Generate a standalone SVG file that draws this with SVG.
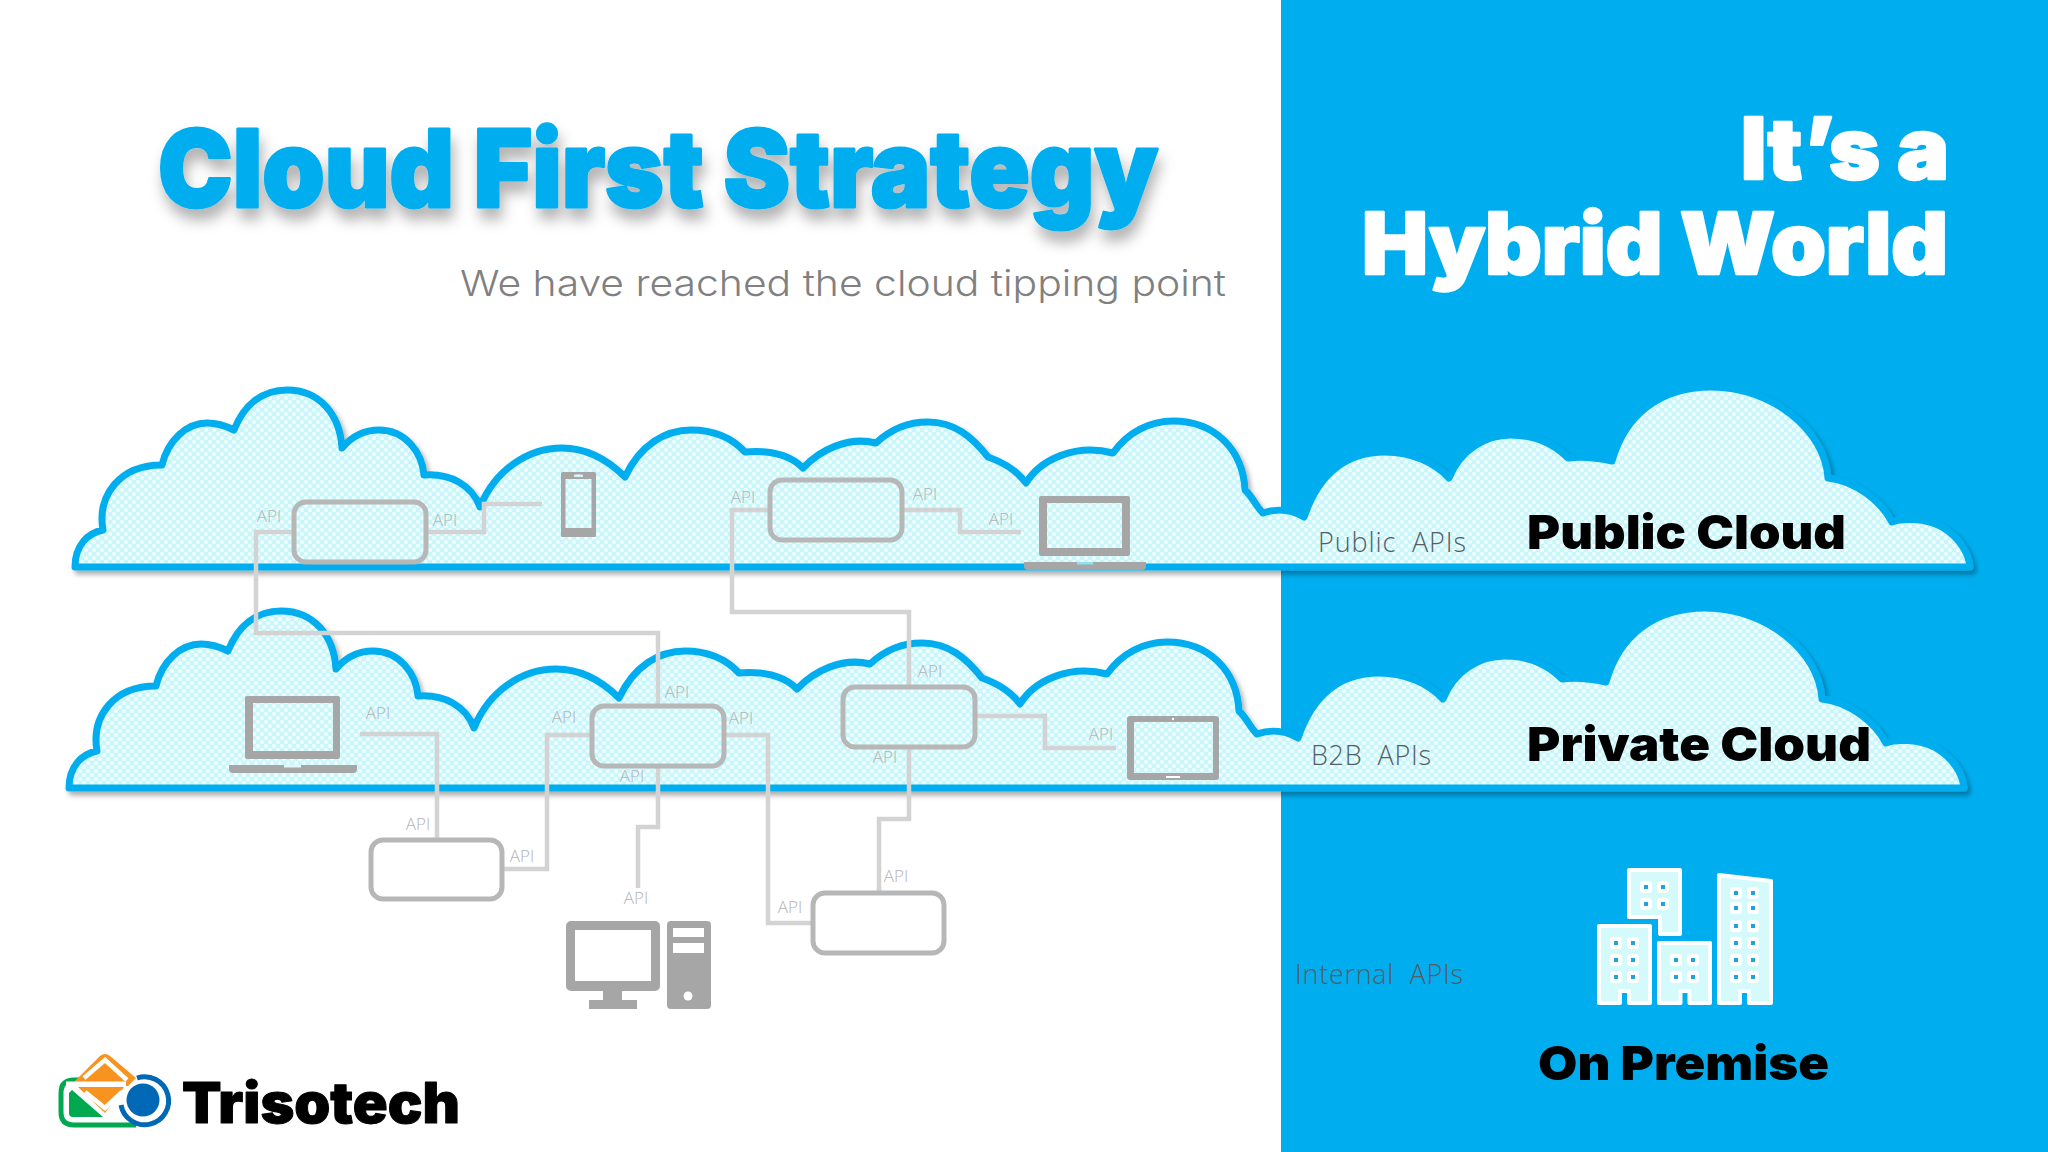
<svg xmlns="http://www.w3.org/2000/svg" width="2048" height="1152" viewBox="0 0 2048 1152">
<style>
.cloud{fill:url(#dots);stroke:#00aeef;stroke-width:7;stroke-linejoin:round;filter:url(#cloudShadow)}
.box{fill:none;stroke:#b7b7b7;stroke-width:5}
.conn{fill:none;stroke:#d3d3d3;stroke-width:4.500}
.api{font-family:"Open Sans","Noto Sans",sans-serif;font-weight:300;font-size:17px;fill:#b4b4b4;text-anchor:middle}
.dev{fill:#a6a6a6}
.hole{fill:url(#dots)}
.white{fill:#fff}
.head{font-family:Inter,"Liberation Sans",sans-serif;font-weight:900;stroke-linejoin:round}
.env{font-family:Inter,"Liberation Sans",sans-serif;font-weight:900;font-size:47px;fill:#000}
.scope{font-family:"Open Sans","Noto Sans",sans-serif;font-weight:300;font-size:27px;fill:#555d66}
.bld{fill:#d4fafc;stroke:#fff;stroke-width:4;stroke-linejoin:round}
</style>
<defs>
<pattern id="dots" width="8" height="8" patternUnits="userSpaceOnUse">
<rect width="8" height="8" fill="#c9f6fa"/>
<circle cx="2" cy="2" r="2.100" fill="#eefdfe"/>
<circle cx="6" cy="6" r="2.100" fill="#eefdfe"/>
</pattern>
<filter id="cloudShadow" x="-5%" y="-10%" width="110%" height="125%">
<feDropShadow dx="3" dy="4" stdDeviation="2.500" flood-color="#000" flood-opacity=".32"/>
</filter>
<filter id="titleShadow" x="-5%" y="-20%" width="110%" height="160%">
<feDropShadow dx="3" dy="11" stdDeviation="7" flood-color="#000" flood-opacity=".3"/>
</filter>
<path id="cloudShape" d="M75 567C75 545 88 533 103 530C97 495 120 465 162 465C168 440 187 423 207 423C218 423 226 426 234 430C244 405 262 390 287 390C320 390 340 415 342 448C352 436 364 430 379 430C405 430 422 452 424 475C450 473 472 485 480 507C495 470 528 448 562 448C588 448 608 460 625 477C640 445 665 430 691 430C715 430 732 438 745 452C770 450 790 455 803 468C820 450 848 436 876 443C892 428 910 422 928 422C955 422 972 437 988 457C1005 463 1018 472 1026 483C1040 460 1075 443 1113 453C1128 432 1150 421 1173 421C1215 421 1243 450 1245 490C1253 497 1256 507 1263 513C1277 508 1292 510 1304 517C1320 470 1350 452 1385 452C1412 452 1435 463 1449 478C1460 450 1485 435 1511 435C1535 435 1553 443 1568 458C1583 456 1598 458 1612 461C1625 415 1660 387 1711 387C1772 387 1825 430 1828 478C1857 481 1882 503 1892 522C1902 518 1925 518 1942 527C1959 537 1969 553 1970 567Z"/>
<g id="win"><rect x="-6" y="-6" width="12" height="12" rx="3" fill="#fff"/><rect x="-2" y="-2" width="4" height="4" fill="#1ea3dc"/></g>
</defs>
<rect width="2048" height="1152" fill="#fff"/>
<rect x="1281" width="767" height="1152" fill="#00aeef"/>

<text class="head" x="158" y="207" font-size="107" fill="#00aeef" stroke="#00aeef" stroke-width="3" textLength="1000" lengthAdjust="spacingAndGlyphs" filter="url(#titleShadow)">Cloud First Strategy</text>
<text x="460" y="296" font-family="Inter,'Open Sans',sans-serif" font-weight="300" font-size="36" fill="#808080" textLength="766" lengthAdjust="spacingAndGlyphs">We have reached the cloud tipping point</text>
<text class="head" x="1741" y="179" font-size="85" fill="#fff" stroke="#fff" stroke-width="2.500" textLength="208" lengthAdjust="spacingAndGlyphs">It’s a</text>
<text class="head" x="1362" y="274" font-size="85" fill="#fff" stroke="#fff" stroke-width="2.500" textLength="586" lengthAdjust="spacingAndGlyphs">Hybrid World</text>

<g id="public-cloud"><use href="#cloudShape" class="cloud"/></g>
<g id="private-cloud"><use href="#cloudShape" class="cloud" transform="translate(-6 221)"/></g>

<g id="connectors">
<path class="conn" d="M294 532H256V633H658V706"/>
<path class="conn" d="M426 532H484V504H542"/>
<path class="conn" d="M770 510H732V612H909V687"/>
<path class="conn" d="M902 510H960V532H1021"/>
<path class="conn" d="M975 716H1045V748H1116"/>
<path class="conn" d="M360 734H437V840"/>
<path class="conn" d="M592 735H547V869H502"/>
<path class="conn" d="M725 735H768V923H813"/>
<path class="conn" d="M658 766V827H638V888"/>
<path class="conn" d="M909 747V819H879V893"/>
</g>

<g id="service-1"><rect class="box" x="294" y="502" width="132" height="60" rx="12"/></g>
<g id="service-2"><rect class="box" x="770" y="480" width="132" height="60" rx="12"/></g>
<g id="service-3"><rect class="box" x="592" y="706" width="132" height="60" rx="12"/></g>
<g id="service-4"><rect class="box" x="843" y="687" width="132" height="60" rx="12"/></g>
<g id="service-5"><rect class="box" x="371" y="840" width="131" height="59" rx="12"/></g>
<g id="service-6"><rect class="box" x="813" y="893" width="131" height="60" rx="12"/></g>

<g id="phone"><rect class="dev" x="561" y="472" width="35" height="65" rx="1.500"/><rect class="hole" x="565.500" y="479" width="26" height="49"/><rect class="hole" x="574" y="474.500" width="9" height="2.500" rx="1"/></g>
<g id="laptop-public"><rect class="dev" x="1039" y="496" width="91" height="60" rx="2"/><rect class="hole" x="1047" y="503" width="75" height="45"/><path class="dev" d="M1024 562H1146V566Q1146 570 1142 570H1028Q1024 570 1024 566Z"/><rect x="1077" y="562" width="16" height="2.500" fill="#8fe0f5"/></g>
<g id="laptop-private"><rect class="dev" x="245" y="696" width="95" height="63" rx="2"/><rect class="hole" x="253" y="703" width="80" height="48"/><path class="dev" d="M229 765H357V769Q357 773 353 773H233Q229 773 229 769Z"/><rect x="284" y="765" width="17" height="2.500" fill="#dff8fb"/></g>
<g id="tablet"><rect class="dev" x="1127" y="716" width="92" height="64" rx="3"/><rect class="hole" x="1134" y="722" width="79" height="51"/><circle cx="1173" cy="719" r="1.200" fill="#fff"/><rect x="1166" y="776" width="14" height="2" fill="#fff"/></g>
<g id="desktop"><rect class="dev" x="566" y="921" width="94" height="70" rx="5"/><rect class="white" x="575" y="930" width="76" height="51"/><rect class="dev" x="603" y="991" width="19" height="10"/><rect class="dev" x="589" y="1000" width="48" height="9"/><rect class="dev" x="667" y="921" width="44" height="88" rx="4"/><rect class="white" x="673" y="928" width="31" height="9"/><rect class="white" x="673" y="943" width="31" height="10"/><circle class="white" cx="688" cy="996" r="4.500"/></g>

<g id="api-labels">
<text class="api" x="269" y="522">API</text>
<text class="api" x="445" y="526">API</text>
<text class="api" x="743" y="503">API</text>
<text class="api" x="925" y="500">API</text>
<text class="api" x="1001" y="525">API</text>
<text class="api" x="677" y="698">API</text>
<text class="api" x="741" y="724">API</text>
<text class="api" x="930" y="677">API</text>
<text class="api" x="1101" y="740">API</text>
<text class="api" x="885" y="763">API</text>
<text class="api" x="378" y="719">API</text>
<text class="api" x="564" y="723">API</text>
<text class="api" x="632" y="782">API</text>
<text class="api" x="418" y="830">API</text>
<text class="api" x="522" y="862">API</text>
<text class="api" x="636" y="904">API</text>
<text class="api" x="790" y="913">API</text>
<text class="api" x="896" y="882">API</text>
</g>

<text class="scope" x="1318" y="552" xml:space="preserve" textLength="148">Public  APIs</text>
<text class="scope" x="1311" y="765" xml:space="preserve" textLength="120">B2B  APIs</text>
<text class="scope" x="1295" y="984" xml:space="preserve" textLength="168">Internal  APIs</text>
<text class="env" x="1527" y="549" textLength="319" lengthAdjust="spacingAndGlyphs">Public Cloud</text>
<text class="env" x="1527" y="761" textLength="344" lengthAdjust="spacingAndGlyphs">Private Cloud</text>
<text class="env" x="1538" y="1080" textLength="291" lengthAdjust="spacingAndGlyphs">On Premise</text>

<g id="on-premise-buildings">
<path class="bld" d="M1629 870H1680V934H1660V917H1629Z"/>
<path class="bld" d="M1599 926H1650V1003H1629V991H1620V1003H1599Z"/>
<path class="bld" d="M1659 943H1710V1003H1689.500V991H1680.500V1003H1659Z"/>
<path class="bld" d="M1719 875L1771 881V1003H1749V991H1740V1003H1719Z"/>
<use href="#win" x="1646" y="887"/><use href="#win" x="1663" y="887"/><use href="#win" x="1646" y="904"/><use href="#win" x="1663" y="904"/>
<use href="#win" x="1616" y="943"/><use href="#win" x="1633" y="943"/><use href="#win" x="1616" y="960"/><use href="#win" x="1633" y="960"/><use href="#win" x="1616" y="977"/><use href="#win" x="1633" y="977"/>
<use href="#win" x="1676" y="960"/><use href="#win" x="1693" y="960"/><use href="#win" x="1676" y="977"/><use href="#win" x="1693" y="977"/>
<use href="#win" x="1736" y="893"/><use href="#win" x="1753" y="893"/><use href="#win" x="1736" y="908"/><use href="#win" x="1753" y="908"/><use href="#win" x="1736" y="926"/><use href="#win" x="1753" y="926"/><use href="#win" x="1736" y="943"/><use href="#win" x="1753" y="943"/><use href="#win" x="1736" y="960"/><use href="#win" x="1753" y="960"/><use href="#win" x="1736" y="977"/><use href="#win" x="1753" y="977"/>
</g>

<g id="trisotech-logo">
<path d="M82 1080H74Q61 1080 61 1093V1112Q61 1125 74 1125H136" fill="none" stroke="#00a94f" stroke-width="5"/>
<path d="M72 1090L103 1117H73Q69 1117 69 1113V1093Z" fill="#00a94f"/>
<path d="M137 1078A24 24 0 1 1 121 1105" fill="none" stroke="#0068b4" stroke-width="5"/>
<circle cx="143" cy="1100" r="16.500" fill="#0068b4"/>
<path d="M75 1081L100 1056Q105 1052 110 1056L136 1078L128 1086H75Z" fill="#f7931e"/>
<path d="M84 1078L105 1060L127 1080" fill="none" stroke="#fff" stroke-width="4.500"/>
<path d="M66 1084H126" fill="none" stroke="#fff" stroke-width="5"/>
<path d="M78 1087H124L105 1113Z" fill="#f7931e"/>
<path d="M85 1092L105 1108L122 1092" fill="none" stroke="#fff" stroke-width="4.500"/>
<text class="head" x="182" y="1123" font-size="56" fill="#000" stroke="#000" stroke-width="1" textLength="278" lengthAdjust="spacingAndGlyphs">Trisotech</text>
</g>
</svg>
